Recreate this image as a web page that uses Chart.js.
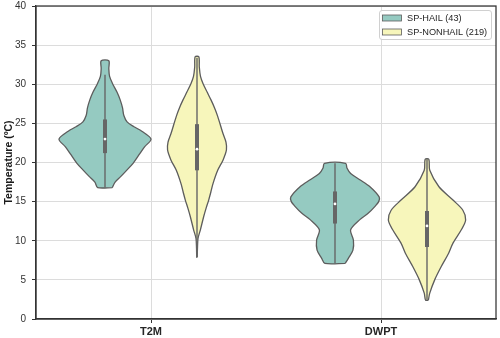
<!DOCTYPE html>
<html>
<head>
<meta charset="utf-8">
<script src="https://cdn.jsdelivr.net/npm/chart.js@4.4.0/dist/chart.umd.min.js"></script>
<style>
  html, body { margin: 0; padding: 0; background: #fff; }
  #wrap { width: 500px; height: 338px; }
</style>
</head>
<body>
<div id="wrap"><canvas id="myChart"></canvas></div>
<script>
// Categories along the x-axis and the two groups
var categories = ['T2M', 'DWPT'];
var seriesNames = ['SP-HAIL (43)', 'SP-NONHAIL (219)'];

// Violin outlines: temperature levels and relative density (1 = widest violin)
var t2mHailY = [16.8, 17.5, 18.2, 19.0, 19.9, 21.0, 22.0, 23.0, 24.0, 24.6, 25.2, 26.0, 27.0, 28.0, 29.0, 30.0, 31.0, 32.0, 33.0];
var t2mHailD = [0.16, 0.22, 0.34, 0.47, 0.61, 0.74, 0.86, 1.00, 0.80, 0.62, 0.48, 0.41, 0.38, 0.33, 0.26, 0.17, 0.10, 0.083, 0.083];

var t2mNonhailY = [7.9, 9.0, 10.3, 11.4, 13.1, 14.2, 15.2, 16.2, 17.3, 19.0, 20.3, 21.6, 22.6, 23.7, 25.9, 27.0, 28.0, 29.0, 30.1, 31.0, 32.2, 33.5];
var t2mNonhailD = [0.005, 0.01, 0.022, 0.074, 0.146, 0.2, 0.254, 0.3, 0.348, 0.45, 0.565, 0.64, 0.63, 0.565, 0.45, 0.38, 0.304, 0.22, 0.13, 0.076, 0.05, 0.04];

var dwptHailY = [7.1, 7.75, 8.8, 10.1, 11.4, 12.7, 13.5, 14.4, 15.0, 15.6, 16.9, 17.8, 18.6, 19.3, 19.9];
var dwptHailD = [0.22, 0.29, 0.39, 0.40, 0.34, 0.54, 0.72, 0.87, 0.95, 0.96, 0.76, 0.54, 0.34, 0.26, 0.23];

var dwptNonhailY = [2.4, 3.3, 5.0, 6.7, 8.4, 9.7, 11.4, 12.65, 13.9, 15.2, 16.9, 19.0, 20.4];
var dwptNonhailD = [0.03, 0.06, 0.167, 0.31, 0.47, 0.565, 0.746, 0.84, 0.78, 0.565, 0.26, 0.06, 0.04];

// Inner boxes: [whisker low, q1, median, q3, whisker high]
var t2mHailBox = [16.8, 21.2, 23.0, 25.5, 31.2];
var t2mNonhailBox = [7.9, 19.0, 21.7, 24.9, 33.4];
var dwptHailBox = [7.1, 12.2, 14.7, 16.3, 19.9];
var dwptNonhailBox = [2.4, 9.2, 11.9, 13.8, 20.4];

var fillColors = ['#95cac1', '#f7f6bb'];
var edgeColor = '#5c5c5c';
var halfWidth = 0.2;   // widest violin half-width, in category units
var dodge = 0.2;

function violinPoints(center, ys, ds) {
  var pts = [];
  for (var i = 0; i < ys.length; i++) pts.push({x: center + ds[i] * halfWidth, y: ys[i]});
  for (var j = ys.length - 1; j >= 0; j--) pts.push({x: center - ds[j] * halfWidth, y: ys[j]});
  pts.push(pts[0]);
  return pts;
}

var violins = [
  {cat: 0, grp: 0, y: t2mHailY, d: t2mHailD, box: t2mHailBox},
  {cat: 0, grp: 1, y: t2mNonhailY, d: t2mNonhailD, box: t2mNonhailBox},
  {cat: 1, grp: 0, y: dwptHailY, d: dwptHailD, box: dwptHailBox},
  {cat: 1, grp: 1, y: dwptNonhailY, d: dwptNonhailD, box: dwptNonhailBox}
];

var datasets = [];
violins.forEach(function (v) {
  var c = v.cat + (v.grp === 0 ? -dodge : dodge);
  datasets.push({
    data: violinPoints(c, v.y, v.d),
    showLine: true,
    fill: 'shape',
    backgroundColor: fillColors[v.grp],
    borderColor: edgeColor,
    borderWidth: 1.3,
    tension: 0.3,
    pointRadius: 0,
    order: 3
  });
  datasets.push({
    data: [{x: c, y: v.box[0]}, {x: c, y: v.box[4]}],
    showLine: true,
    borderColor: '#666666',
    borderWidth: 1.4,
    pointRadius: 0,
    order: 2
  });
  datasets.push({
    data: [{x: c, y: v.box[1]}, {x: c, y: v.box[3]}],
    showLine: true,
    borderColor: '#666666',
    borderWidth: 4,
    borderCapStyle: 'butt',
    pointRadius: 0,
    order: 1
  });
  datasets.push({
    data: [{x: c, y: v.box[2]}],
    pointRadius: 1.4,
    pointBackgroundColor: '#ffffff',
    pointBorderWidth: 0,
    order: 0
  });
});

// frame around the plot plus the legend box in the top right corner
var framePlugin = {
  id: 'frame',
  afterDraw: function (chart) {
    var ctx = chart.ctx, a = chart.chartArea;
    ctx.save();
    ctx.strokeStyle = '#333333';
    ctx.lineWidth = 1.25;
    ctx.strokeRect(a.left, a.top, a.right - a.left, a.bottom - a.top);

    var lx = a.right - 117, ly = a.top + 4, lw = 112, lh = 29;
    ctx.fillStyle = 'rgba(255,255,255,0.85)';
    ctx.strokeStyle = '#d0d0d0';
    ctx.lineWidth = 1;
    ctx.beginPath();
    ctx.roundRect(lx + 0.5, ly + 0.5, lw, lh, 2.5);
    ctx.fill();
    ctx.stroke();
    ctx.font = '9.2px "Liberation Sans", Arial, sans-serif';
    ctx.textBaseline = 'middle';
    seriesNames.forEach(function (name, i) {
      var ry = ly + 5 + i * 14;
      ctx.fillStyle = fillColors[i];
      ctx.fillRect(lx + 3.5, ry, 19, 6);
      ctx.strokeStyle = edgeColor;
      ctx.lineWidth = 0.8;
      ctx.strokeRect(lx + 3.5, ry, 19, 6);
      ctx.fillStyle = '#262626';
      ctx.fillText(name, lx + 28, ry + 3.2);
    });
    ctx.restore();
  }
};

var ctx = document.getElementById('myChart');
new Chart(ctx, {
  type: 'scatter',
  data: {datasets: datasets},
  plugins: [framePlugin],
  options: {
    responsive: true,
    maintainAspectRatio: false,
    animation: false,
    events: [],
    layout: {padding: {top: 6, right: 4, left: 0, bottom: 0}},
    plugins: {legend: {display: false}, tooltip: {enabled: false}},
    scales: {
      x: {
        type: 'linear',
        min: -0.5,
        max: 1.5,
        afterBuildTicks: function (axis) {
          axis.ticks = categories.map(function (c, i) { return {value: i}; });
        },
        afterFit: function (axis) {
          axis.height = 19;
          axis.paddingLeft = 0;
          axis.paddingRight = 0;
        },
        ticks: {
          callback: function (v) { return categories[v]; },
          color: '#262626',
          font: {family: '"Liberation Sans", Arial, sans-serif', size: 11, weight: 'bold'},
          padding: 2,
          maxRotation: 0
        },
        grid: {color: '#dcdcdc', lineWidth: 1, tickLength: 4, tickColor: '#333333'},
        border: {display: true, color: '#333333', width: 1.25}
      },
      y: {
        min: 0,
        max: 40,
        afterFit: function (axis) {
          axis.width = 36;
          axis.paddingTop = 0;
          axis.paddingBottom = 0;
        },
        ticks: {
          stepSize: 5,
          color: '#333333',
          font: {family: '"Liberation Sans", Arial, sans-serif', size: 10},
          padding: 6
        },
        title: {
          display: true,
          text: 'Temperature (ºC)',
          color: '#1a1a1a',
          font: {family: '"Liberation Sans", Arial, sans-serif', size: 10.5, weight: 'bold'},
          padding: {top: 3, bottom: 0}
        },
        grid: {color: '#dcdcdc', lineWidth: 1, tickLength: 4, tickColor: '#333333'},
        border: {display: true, color: '#333333', width: 1.25}
      }
    }
  }
});
</script>
</body>
</html>
